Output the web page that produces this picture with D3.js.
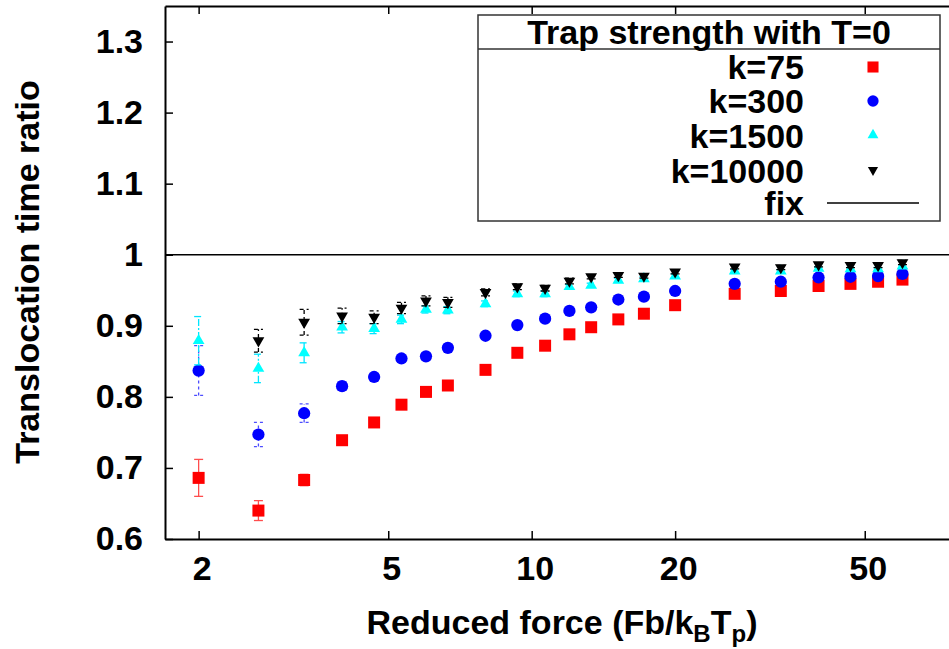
<!DOCTYPE html>
<html>
<head>
<meta charset="utf-8">
<script src="https://cdn.jsdelivr.net/npm/d3@7"></script>
<style>
  html, body { margin: 0; padding: 0; background: #fff; }
  svg text { font-family: "Liberation Sans", Arial, Helvetica, sans-serif; font-weight: bold; }
</style>
</head>
<body>
<svg id="chart" width="949" height="649"></svg>
<script>
// ---------- data ----------
const forces = [2, 2.67, 3.33, 4, 4.67, 5.33, 6, 6.67, 8, 9.33, 10.67, 12, 13.33, 15.2, 17.2, 20, 26.67, 33.33, 40, 46.67, 53.33, 60];

const k75    = [0.686, 0.640, 0.683, 0.739, 0.764, 0.789, 0.807, 0.816, 0.838, 0.862, 0.872, 0.888, 0.898, 0.909, 0.917, 0.929, 0.945, 0.949, 0.956, 0.959, 0.962, 0.965];
const k75Err = [0.026, 0.014, 0.008, 0.004, 0.004, 0.003, 0.003, 0.003, 0.003, 0.003, 0.003, 0.002, 0.002, 0.002, 0.002, 0.002, 0.002, 0.002, 0.002, 0.002, 0.002, 0.002];

const k300    = [0.837, 0.747, 0.777, 0.815, 0.828, 0.854, 0.857, 0.869, 0.886, 0.901, 0.910, 0.921, 0.926, 0.937, 0.941, 0.949, 0.959, 0.962, 0.968, 0.969, 0.970, 0.973];
const k300Err = [0.035, 0.017, 0.013, 0.006, 0.005, 0.004, 0.004, 0.004, 0.003, 0.003, 0.003, 0.003, 0.003, 0.002, 0.002, 0.002, 0.002, 0.002, 0.002, 0.002, 0.002, 0.002];

const k1500    = [0.879, 0.840, 0.862, 0.898, 0.896, 0.909, 0.923, 0.922, 0.931, 0.945, 0.945, 0.955, 0.957, 0.964, 0.966, 0.970, 0.977, 0.977, 0.981, 0.980, 0.980, 0.984];
const k1500Err = [0.034, 0.020, 0.014, 0.008, 0.007, 0.006, 0.005, 0.005, 0.004, 0.004, 0.004, 0.003, 0.003, 0.003, 0.003, 0.003, 0.002, 0.002, 0.002, 0.002, 0.002, 0.002];

const k10000    = [null, 0.879, 0.905, 0.914, 0.912, 0.925, 0.935, 0.933, 0.947, 0.955, 0.953, 0.963, 0.969, 0.971, 0.970, 0.976, 0.983, 0.982, 0.986, 0.985, 0.985, 0.989];
const k10000Err = [null, 0.016, 0.018, 0.011, 0.009, 0.008, 0.007, 0.007, 0.005, 0.004, 0.004, 0.004, 0.003, 0.003, 0.003, 0.003, 0.003, 0.003, 0.003, 0.003, 0.003, 0.003];

const fixValue = 1.0;

const xTicks = [2, 5, 10, 20, 50];
const yTicks = [0.6, 0.7, 0.8, 0.9, 1.0, 1.1, 1.2, 1.3];

const legendTitle = "Trap strength with T=0";
const seriesNames = ["k=75", "k=300", "k=1500", "k=10000"];
const fixName = "fix";

// ---------- layout ----------
const FS = 34;
const svg = d3.select("#chart");
const L = 165, R = 962, T = 6, B = 539;

const x = d3.scaleLog().domain([1.7, 80]).range([L, R]);
const y = d3.scaleLinear().domain([0.6, 1.35]).range([B, T]);

const series = [
  { name: seriesNames[0], vals: k75,    err: k75Err,    color: "#ff0000", errColor: "#ff4d4d", dash: null,      symbol: d3.symbolSquare,   size: 144, rot: 0 },
  { name: seriesNames[1], vals: k300,   err: k300Err,   color: "#0000ff", errColor: "#4d4dff", dash: "3,3",     symbol: d3.symbolCircle,   size: 118, rot: 0 },
  { name: seriesNames[2], vals: k1500,  err: k1500Err,  color: "#00ffff", errColor: "#00e5ff", dash: "7,2,2,2", symbol: d3.symbolTriangle, size: 60,  rot: 0 },
  { name: seriesNames[3], vals: k10000, err: k10000Err, color: "#000000", errColor: "#000000", dash: "4,3",     symbol: d3.symbolTriangle, size: 60,  rot: 180 }
];

svg.append("defs").append("clipPath").attr("id", "plotclip")
  .append("rect").attr("x", L).attr("y", T).attr("width", R - L).attr("height", B - T);

// fix line
svg.append("line")
  .attr("x1", L).attr("x2", R)
  .attr("y1", y(fixValue)).attr("y2", y(fixValue))
  .attr("stroke", "#000").attr("stroke-width", 1.5);

const plot = svg.append("g").attr("clip-path", "url(#plotclip)");

series.forEach(s => {
  const pts = forces.map((f, i) => ({ f, v: s.vals[i], e: s.err[i] })).filter(d => d.v != null);
  const g = plot.append("g");
  const eb = g.selectAll("g.eb").data(pts).join("g").attr("class", "eb")
    .attr("stroke", s.errColor).attr("stroke-width", 1.3).attr("fill", "none");
  eb.append("line")
    .attr("x1", d => x(d.f)).attr("x2", d => x(d.f))
    .attr("y1", d => y(d.v - d.e)).attr("y2", d => y(d.v + d.e))
    .attr("stroke-dasharray", s.dash);
  eb.append("line")
    .attr("x1", d => x(d.f) - 4.5).attr("x2", d => x(d.f) + 4.5)
    .attr("y1", d => y(d.v + d.e)).attr("y2", d => y(d.v + d.e))
    .attr("stroke-dasharray", s.dash);
  eb.append("line")
    .attr("x1", d => x(d.f) - 4.5).attr("x2", d => x(d.f) + 4.5)
    .attr("y1", d => y(d.v - d.e)).attr("y2", d => y(d.v - d.e))
    .attr("stroke-dasharray", s.dash);
  g.selectAll("path.pt").data(pts).join("path").attr("class", "pt")
    .attr("d", d3.symbol().type(s.symbol).size(s.size))
    .attr("transform", d => `translate(${x(d.f)},${y(d.v)}) rotate(${s.rot})`)
    .attr("fill", s.color);
});

// ---------- axes ----------
const axB = svg.append("g").attr("transform", `translate(0,${B})`)
  .call(d3.axisBottom(x).tickValues(xTicks).tickFormat(d3.format("d")).tickSizeInner(-8).tickSizeOuter(0).tickPadding(17));
const axT = svg.append("g").attr("transform", `translate(0,${T})`)
  .call(d3.axisTop(x).tickValues(xTicks).tickFormat("").tickSizeInner(-8).tickSizeOuter(0));
const axL = svg.append("g").attr("transform", `translate(${L},0)`)
  .call(d3.axisLeft(y).tickValues(yTicks).tickFormat(d => d === 1 ? "1" : d3.format(".1f")(d)).tickSizeInner(-8).tickSizeOuter(0).tickPadding(22));
const axR = svg.append("g").attr("transform", `translate(${R},0)`)
  .call(d3.axisRight(y).tickValues(yTicks).tickFormat("").tickSizeInner(-8).tickSizeOuter(0));

[axB, axT, axL, axR].forEach(a => {
  a.select(".domain").attr("stroke", "#000").attr("stroke-width", 2);
  a.selectAll(".tick line").attr("stroke", "#000").attr("stroke-width", 1.5);
  a.selectAll("text").attr("font-size", FS).attr("font-weight", "bold").attr("fill", "#000")
    .attr("font-family", '"Liberation Sans", Arial, Helvetica, sans-serif');
});
axB.selectAll(".tick text").attr("dx", 3);

// ---------- axis titles ----------
const xl = svg.append("text").attr("x", 562).attr("y", 634).attr("text-anchor", "middle")
  .attr("font-size", FS).attr("fill", "#000");
xl.append("tspan").text("Reduced force (Fb/k");
xl.append("tspan").text("B").attr("font-size", 24).attr("dy", 8);
xl.append("tspan").text("T").attr("dy", -8);
xl.append("tspan").text("p").attr("font-size", 24).attr("dy", 8);
xl.append("tspan").text(")").attr("dy", -8);

svg.append("text").attr("transform", "translate(39,272) rotate(-90)")
  .attr("text-anchor", "middle").attr("font-size", FS).attr("fill", "#000")
  .text("Translocation time ratio");

// ---------- legend ----------
const lg = svg.append("g");
lg.append("rect").attr("x", 478).attr("y", 15).attr("width", 462).attr("height", 206)
  .attr("fill", "#fff").attr("stroke", "#333").attr("stroke-width", 1.5);
lg.append("line").attr("x1", 478).attr("x2", 940).attr("y1", 49).attr("y2", 49)
  .attr("stroke", "#333").attr("stroke-width", 1.5);
lg.append("text").attr("x", 709).attr("y", 44).attr("text-anchor", "middle")
  .attr("font-size", FS).attr("fill", "#000").text(legendTitle);

const rowBase = [79, 113, 148, 183];
const symY = [67, 101, 135, 170];
series.forEach((s, i) => {
  lg.append("text").attr("x", 804).attr("y", rowBase[i]).attr("text-anchor", "end")
    .attr("font-size", FS).attr("fill", "#000").text(s.name);
  lg.append("path")
    .attr("d", d3.symbol().type(s.symbol).size(i === 3 ? 45 : s.size * 0.85))
    .attr("transform", `translate(873,${symY[i]}) rotate(${s.rot})`)
    .attr("fill", s.color);
});
lg.append("text").attr("x", 804).attr("y", 215).attr("text-anchor", "end")
  .attr("font-size", FS).attr("fill", "#000").text(fixName);
lg.append("line").attr("x1", 827).attr("x2", 919).attr("y1", 203).attr("y2", 203)
  .attr("stroke", "#000").attr("stroke-width", 1.5);
</script>
</body>
</html>
